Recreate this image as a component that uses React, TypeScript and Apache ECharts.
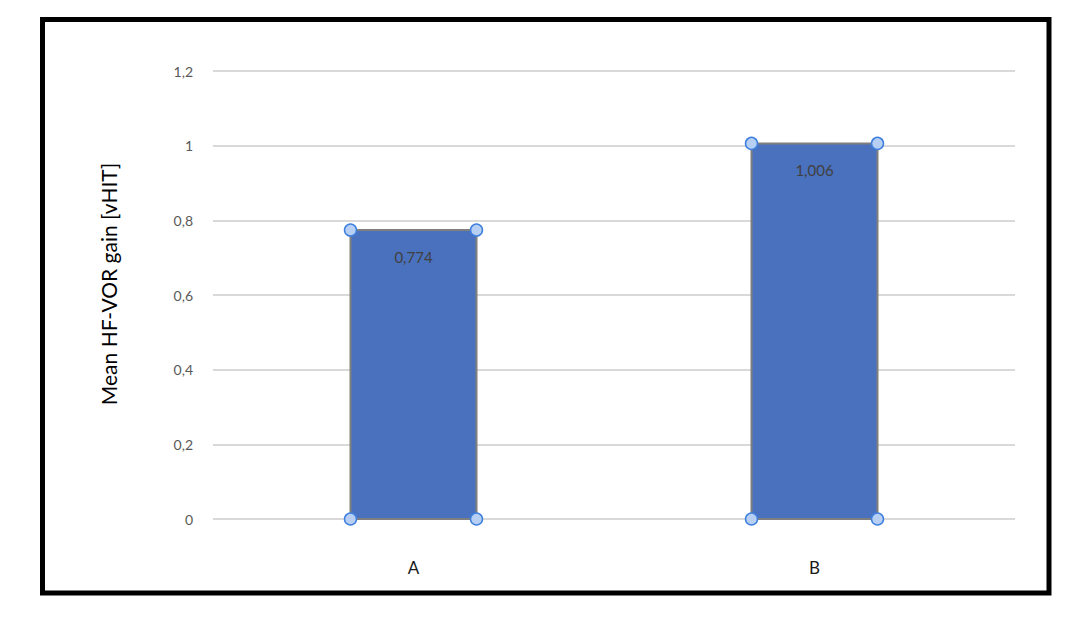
import React, { useEffect, useRef } from 'react';
import * as echarts from 'echarts';

const categories = ['A', 'B'];
const gainValues = [0.774, 1.006];
const yTicks = { min: 0, max: 1.2, interval: 0.2 };
const yTitle = 'Mean HF-VOR gain [vHIT]';

const FONT = 'Lato, "Noto Sans", sans-serif';

function comma(v: number) {
    return String(v).replace('.', ',');
}

export default function App() {
    const chartRef = useRef<HTMLDivElement>(null);

    useEffect(() => {
        if (!chartRef.current) return;
        const chart = echarts.init(chartRef.current, undefined, { renderer: 'svg' });
        const barWidth = 126;

        chart.setOption({
            animation: false,
            backgroundColor: '#ffffff',
            grid: { left: 213, right: 77, top: 71, bottom: 114 },
            xAxis: {
                type: 'category',
                data: categories,
                axisLine: { show: false },
                axisTick: { show: false },
                axisLabel: { margin: 40, fontSize: 17, color: '#1a1a1a', fontFamily: FONT },
            },
            yAxis: {
                type: 'value',
                min: yTicks.min,
                max: yTicks.max,
                interval: yTicks.interval,
                axisLine: { show: false },
                axisTick: { show: false },
                axisLabel: {
                    margin: 20,
                    fontSize: 14,
                    color: '#595959',
                    fontFamily: FONT,
                    formatter: (v: number) => comma(Math.round(v * 10) / 10),
                },
                splitLine: { lineStyle: { color: '#d9d9d9', width: 2 } },
            },
            graphic: [
                {
                    type: 'rect',
                    shape: { x: 42.5, y: 19.5, width: 1006.5, height: 573.5 },
                    style: { fill: 'none', stroke: '#000000', lineWidth: 5 },
                },
                {
                    type: 'text',
                    x: 108,
                    y: 284,
                    rotation: Math.PI / 2,
                    style: {
                        text: yTitle,
                        align: 'center',
                        verticalAlign: 'middle',
                        fill: '#000000',
                        font: `21px ${FONT}`,
                    },
                },
            ],
            series: [
                {
                    type: 'custom',
                    data: gainValues.map((v, i) => [i, v]),
                    renderItem: (params: any, api: any) => {
                        const top = api.coord([api.value(0), api.value(1)]);
                        const base = api.coord([api.value(0), 0]);
                        const x0 = top[0] - barWidth / 2;
                        const x1 = top[0] + barWidth / 2;
                        const handle = (cx: number, cy: number) => ({
                            type: 'circle',
                            shape: { cx, cy, r: 6 },
                            style: { fill: '#b7cff2', stroke: '#3f80de', lineWidth: 1.5 },
                            z2: 10,
                        });
                        return {
                            type: 'group',
                            children: [
                                {
                                    type: 'rect',
                                    shape: { x: x0, y: top[1], width: barWidth, height: base[1] - top[1] },
                                    style: { fill: '#4a71bd', stroke: '#7f7f7f', lineWidth: 2 },
                                },
                                {
                                    type: 'text',
                                    style: {
                                        text: comma(api.value(1)),
                                        x: top[0],
                                        y: top[1] + 27,
                                        align: 'center',
                                        verticalAlign: 'middle',
                                        fill: '#404040',
                                        font: `15px ${FONT}`,
                                    },
                                    z2: 5,
                                },
                                handle(x0, top[1]),
                                handle(x1, top[1]),
                                handle(x0, base[1]),
                                handle(x1, base[1]),
                            ],
                        };
                    },
                },
            ],
        });

        return () => {
            chart.dispose();
        };
    }, []);

    return (
        <div
            ref={chartRef}
            style={{ position: 'fixed', left: 0, top: 0, width: 1092, height: 633 }}
        />
    );
}
